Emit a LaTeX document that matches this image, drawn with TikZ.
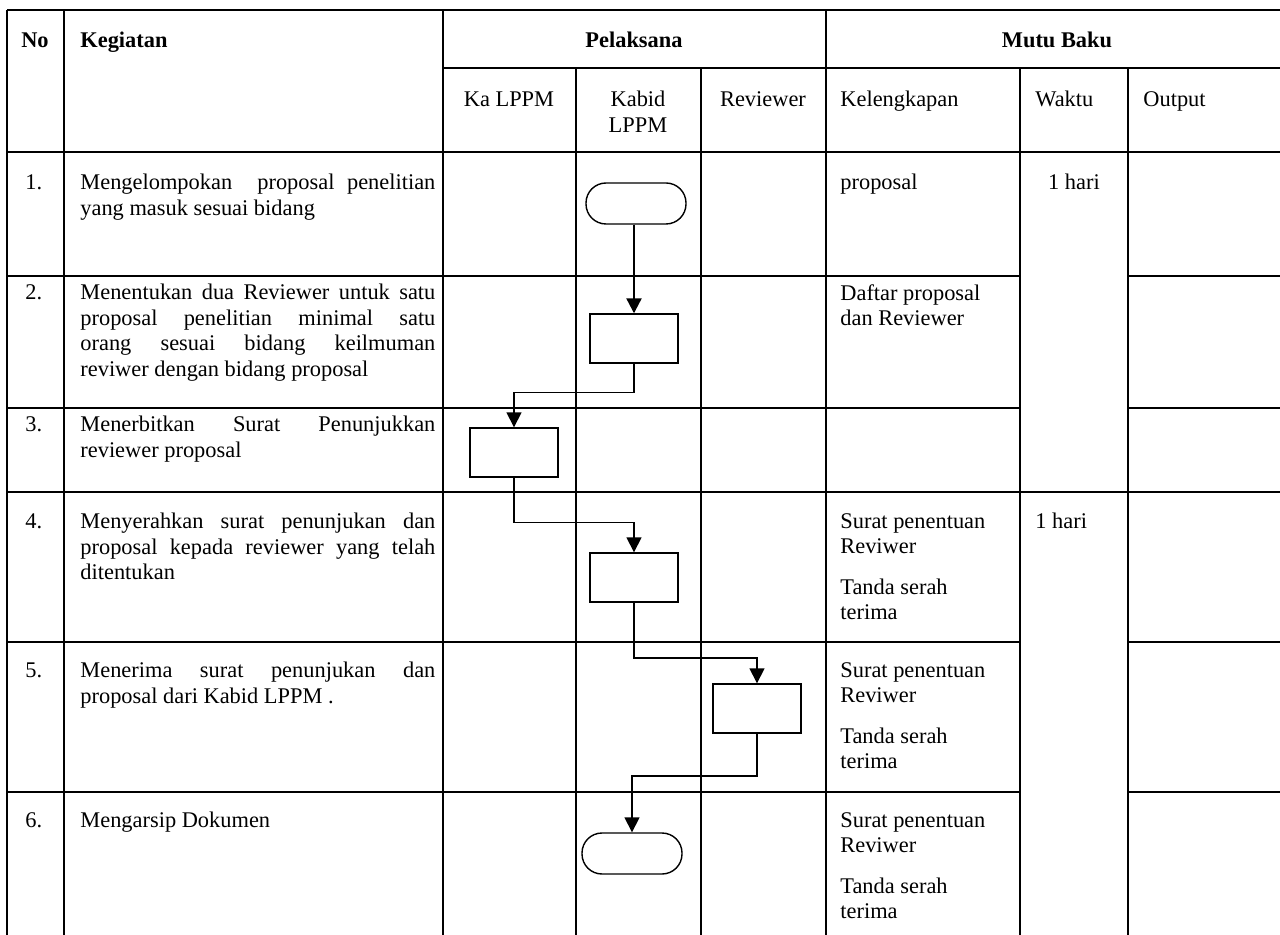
\documentclass[tikz,border=0pt]{standalone}
\usepackage{fontspec}
\setmainfont{Liberation Serif}
\usepackage{tikz}
\usetikzlibrary{positioning,arrows.meta}
\newcommand{\cellfont}{\fontsize{11.2}{12.7}\selectfont}

\begin{document}
\begin{tikzpicture}
	[x=0.5pt,y=-0.5pt,
	grid/.style={line width=1pt},
	txt/.style={anchor=north west,inner sep=0pt,font=\cellfont},
	head/.style={txt,font=\cellfont\bfseries},
	para/.style={txt,text width=177.5pt,align=justify},
	term/.style={draw,line width=0.7pt,rounded corners=10pt,minimum width=50pt,minimum height=20.5pt},
	proc/.style={draw,line width=0.7pt,minimum width=44pt,minimum height=24.5pt},
	flow/.style={line width=0.8pt,-{Triangle[length=7.5pt,width=7.5pt]}}]
	\useasboundingbox (0,0) rectangle (1280,935);
	% table lines
	\draw[grid] (7,10) -- (1280,10) (443,68) -- (1280,68);
	\foreach \y in {152,492} \draw[grid] (7,\y) -- (1280,\y);
	\foreach \y in {276,408,642,792} \draw[grid] (7,\y) -- (1020,\y) (1128,\y) -- (1280,\y);
	\foreach \x in {7,64,443,826} \draw[grid] (\x,10) -- (\x,935);
	\foreach \x in {576,701,1020,1128} \draw[grid] (\x,68) -- (\x,935);
	% header
	\node[head,anchor=north] (no) at (35,32) {No};
	\node[head] (kegiatan) at (80,32) {Kegiatan};
	\node[head,anchor=north] (pelaksana) at (634,32) {Pelaksana};
	\node[head,anchor=north] (mutu) at (1057,32) {Mutu Baku};
	\node[txt,anchor=north] (ka) at (509,91) {Ka LPPM};
	\node[txt,anchor=north,align=center] (kabid) at (638,91) {Kabid\\LPPM};
	\node[txt,anchor=north] (rev) at (763,91) {Reviewer};
	\node[txt] (kel) at (840,91) {Kelengkapan};
	\node[txt] (waktu) at (1035,91) {Waktu};
	\node[txt] (output) at (1143,91) {Output};
	% rows
	\foreach \i/\y in {1/174,2/284,3/416,4/513,5/662,6/812}
		\node[txt] (no\i) at (25,\y) {\i.};
	\node[para] (act1) at (80,174) {Mengelompokan\ \ proposal penelitian\linebreak yang masuk sesuai bidang};
	\node[para] (act2) at (80,284) {Menentukan dua Reviewer untuk satu\linebreak proposal penelitian minimal satu\linebreak orang sesuai bidang keilmuman\linebreak reviwer dengan bidang proposal};
	\node[para] (act3) at (80,416) {Menerbitkan Surat Penunjukkan\linebreak reviewer proposal};
	\node[para] (act4) at (80,513) {Menyerahkan surat penunjukan dan\linebreak proposal kepada reviewer yang telah\linebreak ditentukan};
	\node[para] (act5) at (80,662) {Menerima surat penunjukan dan\linebreak proposal dari Kabid LPPM .};
	\node[para] (act6) at (80,812) {Mengarsip Dokumen};
	\node[txt] (kel1) at (840,174) {proposal};
	\node[txt,align=left] (kel2) at (840,284) {Daftar proposal\\dan Reviewer};
	\foreach \i/\y in {4/513,5/662,6/812}
		\node[txt,align=left] (kel\i) at (840,\y) {Surat penentuan\\Reviwer\\[7.5pt]Tanda serah\\terima};
	\node[txt,anchor=north] (wkt1) at (1074,174) {1 hari};
	\node[txt] (wkt4) at (1035,513) {1 hari};
	% flow
	\node[term] (s1) at (636,203.5) {};
	\node[proc] (s2) at (634,338.5) {};
	\node[proc] (s3) at (514,452.5) {};
	\node[proc] (s4) at (634,577.5) {};
	\node[proc] (s5) at (757,708.5) {};
	\node[term] (s6) at (632,853.5) {};
	\draw[flow,line width=1.1pt] (s1.south -| s2.north) -- (s2.north);
	\draw[flow] (s2.south) -- ++(0,29) -| (s3.north);
	\draw[flow] (s3.south) -- ++(0,45) -| (s4.north);
	\draw[flow] (s4.south) -- ++(0,55) -| (s5.north);
	\draw[flow] (s5.south) -- ++(0,42) -| (s6.north);
\end{tikzpicture}
\end{document}
